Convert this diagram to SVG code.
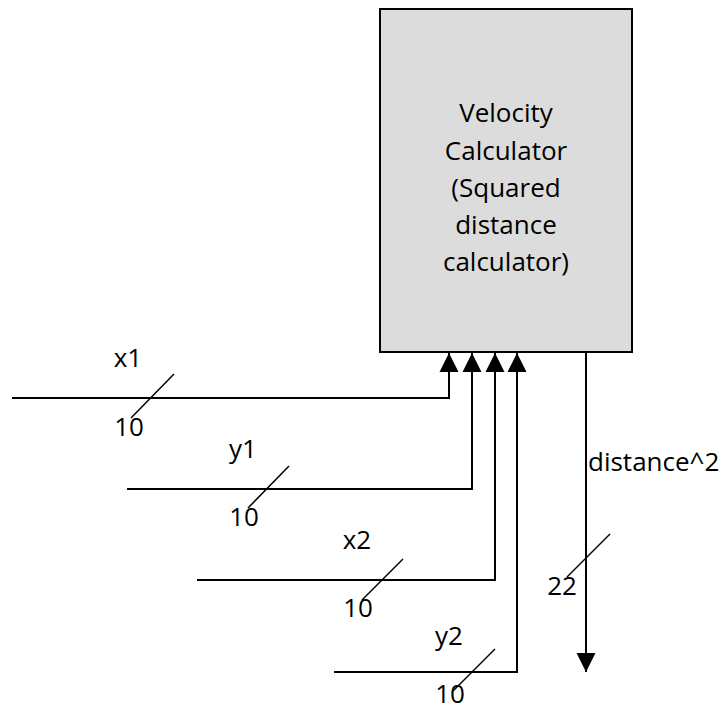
<svg xmlns="http://www.w3.org/2000/svg" width="725" height="710" viewBox="0 0 725 710">
<style>
.t{font-family:"Open Sans","Noto Sans","DejaVu Sans",sans-serif;font-size:26px;fill:#000}
.c{text-anchor:middle}
.w{fill:none;stroke:#000;stroke-width:2}
.s{fill:none;stroke:#000;stroke-width:1.5}
</style>
<defs>
<marker id="ah" markerUnits="userSpaceOnUse" markerWidth="20" markerHeight="20" refX="19" refY="9.5" orient="auto" viewBox="0 0 20 19">
<path d="M0,0 L19,9.5 L0,19 z" fill="#000"/>
</marker>
</defs>
<rect width="725" height="710" fill="#fff"/>
<g id="calc">
<rect x="380" y="9" width="252" height="343" fill="#dcdcdc" stroke="#000" stroke-width="2"/>
<text class="t c" x="506"><tspan x="506" y="122">Velocity</tspan><tspan x="506" y="160">Calculator</tspan><tspan x="506" y="197">(Squared</tspan><tspan x="506" y="234">distance</tspan><tspan x="506" y="271">calculator)</tspan></text>
</g>
<g id="connectors">
<path class="w" d="M12,398 H449 V353" marker-end="url(#ah)"/>
<path class="w" d="M127,489 H472 V353" marker-end="url(#ah)"/>
<path class="w" d="M197,580 H495 V353" marker-end="url(#ah)"/>
<path class="w" d="M334,672 H517 V353" marker-end="url(#ah)"/>
<path class="w" d="M586,352 V672" marker-end="url(#ah)"/>
<line class="s" x1="131" y1="418" x2="174" y2="374"/>
<line class="s" x1="248" y1="508" x2="289" y2="466"/>
<line class="s" x1="362" y1="600" x2="403" y2="559"/>
<line class="s" x1="452" y1="692" x2="495" y2="649"/>
<line class="s" x1="567" y1="577" x2="610" y2="534"/>
</g>
<g id="labels">
<text class="t c" x="128" y="367">x1</text>
<text class="t c" x="129" y="436">10</text>
<text class="t c" x="243" y="458">y1</text>
<text class="t c" x="244" y="526">10</text>
<text class="t c" x="357" y="549">x2</text>
<text class="t c" x="358" y="617">10</text>
<text class="t c" x="449" y="645">y2</text>
<text class="t c" x="450" y="703">10</text>
<text class="t c" x="562" y="595">22</text>
<text class="t" x="588" y="471">distance^2</text>
</g>
</svg>
